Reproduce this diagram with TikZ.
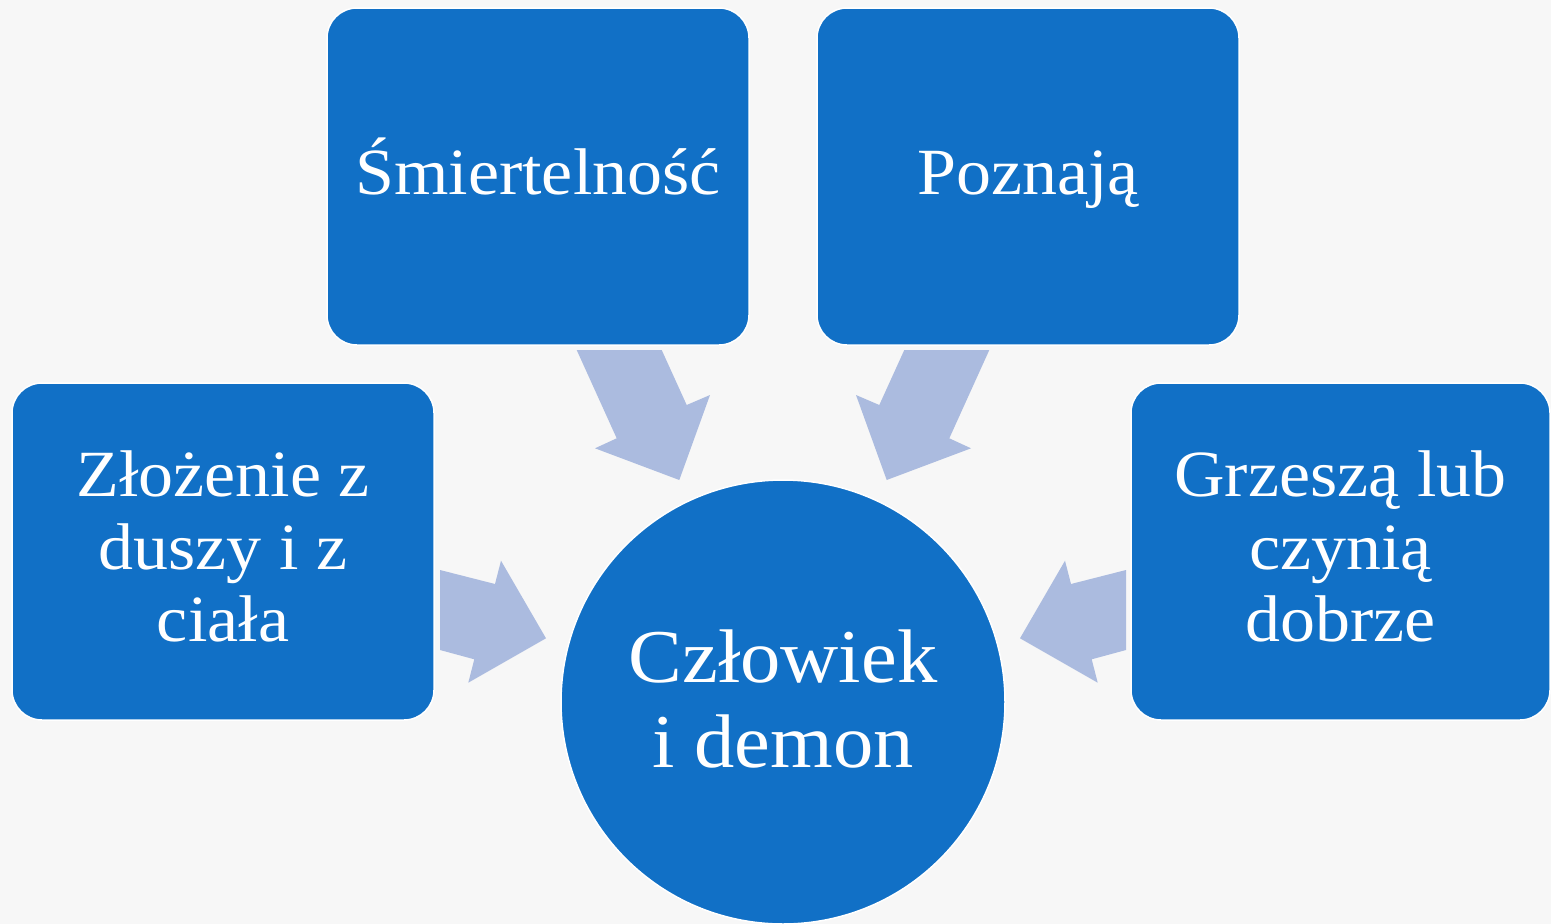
\documentclass[tikz,border=0pt]{standalone}
\usepackage{fontspec}
\setmainfont{Liberation Serif}[FakeStretch=1.06]
\definecolor{boxblue}{RGB}{17,112,198}
\definecolor{arrowblue}{RGB}{171,187,223}
\definecolor{bg}{RGB}{247,247,247}
\begin{document}
\begin{tikzpicture}[x=1pt,y=-1pt,
  boxnode/.style={draw=white,line width=1.5pt,fill=boxblue,rounded corners=30pt,
    minimum width=422pt,minimum height=337pt,inner sep=0pt,text=white,align=center,
    font=\fontsize{66}{72.5}\selectfont},
  oneline/.style={text height=44pt,text depth=8pt},
  boxtext/.style={text=white,align=center,inner sep=0pt,font=\fontsize{66}{72.5}\selectfont},
  circnode/.style={circle,draw=white,line width=1.5pt,fill=boxblue,minimum size=444pt,
    inner sep=0pt},
  circtext/.style={text=white,align=center,inner sep=0pt,font=\fontsize{76}{85}\selectfont},
  blockarrow/.style={fill=arrowblue,draw=none}]
\fill[bg] (0,0) rectangle (1551,924);
\useasboundingbox (0,0) rectangle (1551,924);
% nodes
\node[boxnode,oneline] (tl) at (538,176.5) {Śmiertelność};
\node[boxnode,oneline] (tr) at (1028,176.5) {Poznają};
\node[boxnode] (l) at (223,551.5) {};
\node[boxtext] (lt) at (223,546.5) {Złożenie z\\duszy i z\\ciała};
\node[boxnode,minimum width=419pt] (r) at (1340.5,551.5) {};
\node[boxtext] (rt) at (1340.5,546.5) {Grzeszą lub\\czynią\\dobrze};
\node[circnode] (c) at (783,702) {};
\node[circtext] (ct) at (783,699) {Człowiek\\i demon};
% block arrows
\fill[blockarrow] (576.7,350) -- (661.7,350) -- (686.7,405) -- (710,395) -- (679.3,480) -- (595,448.3) -- (616.7,438.3) -- cycle;
\fill[blockarrow] (989.3,350) -- (904.3,350) -- (879.3,405) -- (856,395) -- (886.7,480) -- (971,448.3) -- (949.3,438.3) -- cycle;
\fill[blockarrow] (440,570) -- (495,584) -- (501,560.7) -- (546,638.3) -- (468.3,682.7) -- (474.3,659.3) -- (440,650) -- cycle;
\fill[blockarrow] (1126,570) -- (1071,584) -- (1065,560.7) -- (1020,638.3) -- (1097.7,682.7) -- (1091.7,659.3) -- (1126,650) -- cycle;
\end{tikzpicture}
\end{document}
